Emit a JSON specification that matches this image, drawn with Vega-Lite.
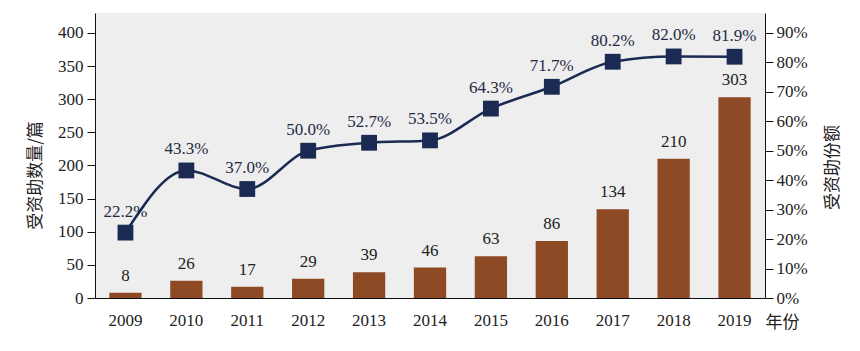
{
  "$schema": "https://vega.github.io/schema/vega-lite/v6.json",
  "width": 670,
  "height": 285,
  "autosize": "none",
  "padding": {"left": 95, "top": 13, "right": 95, "bottom": 53},
  "background": "white",
  "view": {"fill": "#edeeed", "stroke": null},
  "data": {"values": [
    {"year": "2009", "count": 8, "share": 0.222},
    {"year": "2010", "count": 26, "share": 0.433},
    {"year": "2011", "count": 17, "share": 0.370},
    {"year": "2012", "count": 29, "share": 0.500},
    {"year": "2013", "count": 39, "share": 0.527},
    {"year": "2014", "count": 46, "share": 0.535},
    {"year": "2015", "count": 63, "share": 0.643},
    {"year": "2016", "count": 86, "share": 0.717},
    {"year": "2017", "count": 134, "share": 0.802},
    {"year": "2018", "count": 210, "share": 0.820},
    {"year": "2019", "count": 303, "share": 0.819}
  ]},
  "encoding": {
    "x": {"field": "year", "type": "ordinal", "scale": {"paddingInner": 0.47, "paddingOuter": 0.235},
      "axis": {"title": "年份", "titleX": 687, "titleY": 24, "titleAlign": "center", "titleBaseline": "middle", "titleAngle": 0, "labelAngle": 0, "ticks": false, "labelPadding": 14,
        "labelFont": "Liberation Serif", "labelFontSize": 17, "labelColor": "#222", "titleFont": "Noto Sans CJK SC", "titleFontSize": 17, "titleFontWeight": "normal", "titleColor": "#222", "domainColor": "#111", "grid": false}}
  },
  "layer": [
    {"mark": {"type": "bar", "color": "#8e4925"},
      "encoding": {"y": {"field": "count", "type": "quantitative", "scale": {"domain": [0, 430], "nice": false},
        "axis": {"values": [0, 50, 100, 150, 200, 250, 300, 350, 400], "labelOverlap": false, "tickSize": 8, "labelPadding": 4, "labelFont": "Liberation Serif", "labelFontSize": 17, "labelColor": "#222", "domainColor": "#111", "tickColor": "#111", "grid": false,
          "title": "受资助数量/篇", "titleFont": "Noto Sans CJK SC", "titleFontSize": 17, "titleFontWeight": "normal", "titleColor": "#222", "titleX": -60, "titleY": 162, "titleAngle": -90, "titleAlign": "center", "titleBaseline": "middle"}}}},
    {"mark": {"type": "text", "baseline": "bottom", "dy": -8, "fontSize": 17, "font": "Liberation Serif", "color": "#222"},
      "encoding": {"y": {"field": "count", "type": "quantitative", "scale": {"domain": [0, 430], "nice": false}, "axis": null}, "text": {"field": "count", "type": "quantitative"}}},
    {"mark": {"type": "line", "interpolate": "monotone", "color": "#1b2a52", "strokeWidth": 2.5},
      "encoding": {"y": {"field": "share", "type": "quantitative", "scale": {"domain": [0, 0.9675], "nice": false},
        "axis": {"orient": "right", "values": [0, 0.1, 0.2, 0.3, 0.4, 0.5, 0.6, 0.7, 0.8, 0.9], "labelOverlap": false, "format": ".0%", "tickSize": 8, "labelPadding": 3, "labelFont": "Liberation Serif", "labelFontSize": 17, "labelColor": "#222", "domainColor": "#111", "tickColor": "#111", "grid": false,
          "title": "受资助份额", "titleFont": "Noto Sans CJK SC", "titleFontSize": 17, "titleFontWeight": "normal", "titleColor": "#222", "titleX": 67, "titleY": 154, "titleAngle": -90, "titleAlign": "center", "titleBaseline": "middle"}}}},
    {"mark": {"type": "point", "shape": "square", "filled": true, "opacity": 1, "size": 250, "color": "#1b2a52"},
      "encoding": {"y": {"field": "share", "type": "quantitative", "scale": {"domain": [0, 0.9675], "nice": false}, "axis": null}}},
    {"mark": {"type": "text", "baseline": "bottom", "dy": -12, "fontSize": 17, "font": "Liberation Serif", "color": "#1f2a44"},
      "encoding": {"y": {"field": "share", "type": "quantitative", "scale": {"domain": [0, 0.9675], "nice": false}, "axis": null}, "text": {"field": "share", "type": "quantitative", "format": ".1%"}}}
  ],
  "resolve": {"scale": {"y": "independent"}}
}
